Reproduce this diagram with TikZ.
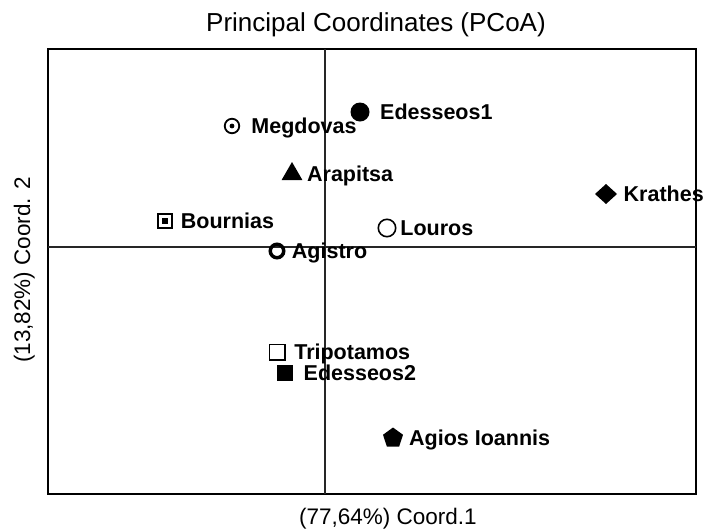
\documentclass[tikz,border=0pt]{standalone}
\usepackage{fontspec}
\setmainfont{Liberation Sans}
\usetikzlibrary{positioning,shapes.geometric}

\begin{document}
\begin{tikzpicture}[
    x=1pt, y=-1pt,
    node distance = 8pt,
    sym/.style={inner sep=0pt,outer sep=0pt},
    txt/.style={text=black,font={\fontsize{21.5}{25}\selectfont\bfseries},inner sep=0pt,text height=15.4pt,text depth=0pt},
    axtxt/.style={text=black,font={\fontsize{22.5}{26}\selectfont},inner sep=0pt,text height=16.1pt,text depth=0pt},
]
    \useasboundingbox (0,0) rectangle (703,528);

    % frame and axes
    \draw[line width=2pt] (48,49) rectangle (696,494);
    \draw[line width=1.4pt,black!85] (325,49) -- (325,494);
    \draw[line width=1.4pt,black!85] (48,247) -- (696,247);

    \node[axtxt,font={\fontsize{26}{30}\selectfont},text height=18.6pt] at (376,22) (title) {Principal Coordinates (PCoA)};
    \node[axtxt] at (388,516) (xlabel) {(77,64\%) Coord.1};
    \node[axtxt,rotate=90] at (22,270) (ylabel) {(13,82\%) Coord. 2};

    % points
    \node[sym,circle,draw,line width=1.8pt,minimum size=14.5pt,
          path picture={\fill (path picture bounding box.center) circle (2.4pt);}] at (232,126) (megdovas) {};
    \node[txt,right=12pt of megdovas] (megdovasName) {Megdovas};

    \node[sym,circle,fill=black,minimum size=19pt] at (360,112) (edesseos1) {};
    \node[txt,right=10.5pt of edesseos1] (edesseos1Name) {Edesseos1};

    \node[sym,regular polygon,regular polygon sides=3,fill=black,minimum size=24pt] at (292,174) (arapitsa) {};
    \node[txt,right=8pt of arapitsa] (arapitsaName) {Arapitsa};

    \node[sym,diamond,fill=black,minimum width=22pt,minimum height=20pt] at (606,194) (krathes) {};
    \node[txt,right=6.5pt of krathes] (krathesName) {Krathes};

    \node[sym,rectangle,draw,line width=1.6pt,minimum size=14.5pt,
          path picture={\fill ([shift={(-3pt,-3pt)}]path picture bounding box.center) rectangle ++(6pt,6pt);}] at (165,221) (bournias) {};
    \node[txt,right=8.5pt of bournias] (bourniasName) {Bournias};

    \node[sym,circle,draw,line width=1.6pt,minimum size=17.4pt] at (387,228) (louros) {};
    \node[txt,right=4.5pt of louros] (lourosName) {Louros};

    \node[sym,circle,draw,line width=3.5pt,minimum size=13.5pt] at (277,251) (agistro) {};
    \node[txt,right=8pt of agistro] (agistroName) {Agistro};

    \node[sym,rectangle,draw,line width=1.8pt,minimum size=15.2pt] at (277,352) (tripotamos) {};
    \node[txt,right=9.5pt of tripotamos] (tripotamosName) {Tripotamos};

    \node[sym,rectangle,fill=black,minimum size=16pt] at (285,373) (edesseos2) {};
    \node[txt,right=10.5pt of edesseos2] (edesseos2Name) {Edesseos2};

    \node[sym,regular polygon,regular polygon sides=5,fill=black,minimum size=21pt] at (393,438) (agiosioannis) {};
    \node[txt,right=7pt of agiosioannis] (agiosioannisName) {Agios Ioannis};

\end{tikzpicture}
\end{document}
